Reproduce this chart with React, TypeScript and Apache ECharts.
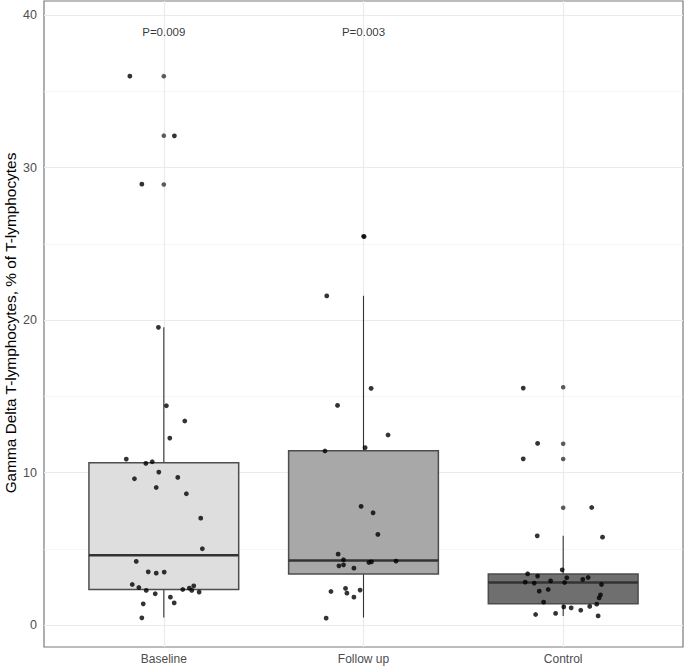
import React, { useEffect, useRef } from "react";
import * as echarts from "echarts";

const categories = ["Baseline", "Follow up", "Control"];
const yTicks = [0, 10, 20, 30, 40];
const yMinorTicks = [5, 15, 25, 35];
const yTitle = "Gamma Delta T-lymphocytes, % of T-lymphocytes";

// box stats: [lowerWhisker, Q1, median, Q3, upperWhisker]
const baselineBox = [0.5, 2.34, 4.59, 10.65, 19.53];
const followUpBox = [0.5, 3.35, 4.24, 11.44, 21.6];
const controlBox = [0.61, 1.4, 2.8, 3.35, 5.86];
const boxFills = ["#dedede", "#a8a8a8", "#6f6f6f"];

// outliers (drawn at category centre)
const baselineOutliers = [36.0, 32.1, 28.9];
const followUpOutliers = [25.5];
const controlOutliers = [15.6, 11.9, 10.9, 7.7];

// jittered points: [offset from category centre, value]
const baselinePoints = [
  [-0.17, 36.0], [0.053, 32.09], [-0.11, 28.92], [-0.027, 19.53], [0.013, 14.39],
  [0.105, 13.39], [0.03, 12.27], [-0.188, 10.89], [-0.09, 10.61], [-0.058, 10.72],
  [-0.147, 9.6], [-0.025, 10.04], [0.07, 9.69], [-0.038, 9.03], [0.113, 8.62],
  [0.185, 7.02], [0.193, 5.01], [-0.138, 4.18], [-0.078, 3.5], [-0.038, 3.41],
  [0.002, 3.48], [-0.158, 2.67], [-0.125, 2.47], [-0.088, 2.28], [-0.043, 2.06],
  [0.095, 2.34], [0.128, 2.43], [0.14, 2.28], [0.15, 2.58], [0.177, 2.17],
  [0.033, 1.84], [-0.103, 1.4], [0.052, 1.46], [-0.11, 0.48],
];
const followUpPoints = [
  [0.003, 25.48], [-0.184, 21.59], [0.038, 15.53], [-0.13, 14.41], [0.123, 12.47],
  [0.008, 11.64], [-0.193, 11.42], [-0.012, 7.79], [0.048, 7.37], [0.072, 5.95],
  [-0.127, 4.66], [-0.1, 4.29], [-0.123, 3.89], [-0.1, 3.96], [-0.048, 3.74],
  [0.027, 4.11], [0.04, 4.15], [0.163, 4.2], [-0.163, 2.21], [-0.09, 2.41],
  [-0.083, 2.1], [-0.017, 2.3], [-0.048, 1.84], [-0.187, 0.46],
];
const controlPoints = [
  [-0.2, 15.55], [-0.128, 11.92], [-0.2, 10.91], [0.143, 7.72], [-0.13, 5.86],
  [0.197, 5.77], [-0.005, 3.63], [-0.178, 3.37], [-0.128, 3.22], [-0.19, 2.82],
  [-0.145, 2.76], [-0.063, 2.91], [0.018, 3.11], [0.007, 2.8], [0.098, 3.0],
  [0.125, 3.13], [0.192, 2.67], [-0.12, 2.23], [-0.075, 2.34], [-0.098, 1.51],
  [0.187, 1.99], [0.18, 1.79], [0.168, 1.38], [0.133, 1.23], [0.003, 1.2],
  [0.04, 1.14], [0.088, 0.98], [-0.038, 0.77], [-0.138, 0.7], [0.175, 0.61],
];

const pLabels = ["P=0.009", "P=0.003"];
const pLabelY = 38.9;

const FONT = "Liberation Sans, Arial, sans-serif";

export default function App() {
  const ref = useRef<HTMLDivElement>(null);

  useEffect(() => {
    if (!ref.current) return;
    const chart = echarts.init(ref.current, null, { renderer: "svg" });

    const boxes = [baselineBox, followUpBox, controlBox];
    const boxData = boxes.map((b, i) => [i, ...b]);
    const outliers = [baselineOutliers, followUpOutliers, controlOutliers];
    const outlierData: number[][] = [];
    outliers.forEach((arr, i) => arr.forEach((v) => outlierData.push([i, v])));
    const pointGroups = [baselinePoints, followUpPoints, controlPoints];
    const pointData: number[][] = [];
    pointGroups.forEach((arr, i) => arr.forEach(([dx, v]) => pointData.push([i + dx, v])));

    const gridLines = [
      ...yMinorTicks.map((v) => ({ yAxis: v, lineStyle: { color: "#f2f2f2", width: 0.7, type: "solid" } })),
      ...yTicks.map((v) => ({ yAxis: v, lineStyle: { color: "#ebebeb", width: 1.2, type: "solid" } })),
      ...categories.map((_, i) => ({ xAxis: i, lineStyle: { color: "#ebebeb", width: 1.2, type: "solid" } })),
    ];

    const option: any = {
      animation: false,
      backgroundColor: "#ffffff",
      grid: {
        left: 44,
        right: 2,
        top: 1,
        bottom: 21,
        containLabel: false,
        outerBoundsMode: "none",
        show: true,
        borderColor: "#7a7a7a",
        borderWidth: 1.2,
        backgroundColor: "#ffffff",
      },
      graphic: [
        {
          type: "text",
          x: 10,
          y: 323,
          rotation: Math.PI / 2,
          silent: true,
          style: {
            text: yTitle,
            fill: "#000000",
            fontSize: 15.4,
            fontFamily: FONT,
            textAlign: "center",
            textVerticalAlign: "middle",
          },
        },
      ],
      xAxis: {
        type: "value",
        min: -0.6,
        max: 2.6,
        axisLine: { show: false },
        splitLine: { show: false },
        axisTick: { show: true, customValues: [0, 1, 2], length: 3, lineStyle: { color: "#333333", width: 1 } },
        axisLabel: {
          customValues: [0, 1, 2],
          formatter: (v: number) => categories[Math.round(v)] ?? "",
          color: "#4d4d4d",
          fontSize: 12,
          fontFamily: FONT,
          margin: 6,
        },
      },
      yAxis: {
        type: "value",
        min: -1.43,
        max: 40.93,
        axisLine: { show: false },
        splitLine: { show: false },
        axisTick: { show: true, customValues: yTicks, length: 3, lineStyle: { color: "#333333", width: 1 } },
        axisLabel: {
          customValues: yTicks,
          color: "#4d4d4d",
          fontSize: 12.5,
          fontFamily: FONT,
          margin: 7,
        },
      },
      series: [
        {
          type: "line",
          data: [],
          z: 1,
          markLine: {
            silent: true,
            z: 1,
            symbol: ["none", "none"],
            label: { show: false },
            animation: false,
            data: gridLines,
          },
        },
        {
          type: "custom",
          z: 10,
          data: boxData,
          renderItem: (params: any, api: any) => {
            const x = api.value(0);
            const lo = api.coord([x, api.value(1)]);
            const q1 = api.coord([x, api.value(2)]);
            const med = api.coord([x, api.value(3)]);
            const q3 = api.coord([x, api.value(4)]);
            const hi = api.coord([x, api.value(5)]);
            const w = api.size([0.75, 0])[0];
            const cx = lo[0];
            const stroke = "#4d4d4d";
            return {
              type: "group",
              children: [
                { type: "line", shape: { x1: cx, y1: hi[1], x2: cx, y2: q3[1] }, style: { stroke: "#333333", lineWidth: 1.1 } },
                { type: "line", shape: { x1: cx, y1: q1[1], x2: cx, y2: lo[1] }, style: { stroke: "#333333", lineWidth: 1.1 } },
                {
                  type: "rect",
                  shape: { x: cx - w / 2, y: q3[1], width: w, height: q1[1] - q3[1] },
                  style: { fill: boxFills[params.dataIndex], stroke, lineWidth: 1.5 },
                },
                { type: "line", shape: { x1: cx - w / 2, y1: med[1], x2: cx + w / 2, y2: med[1] }, style: { stroke: "#333333", lineWidth: 2.4 } },
              ],
            };
          },
        },
        {
          type: "scatter",
          z: 11,
          data: outlierData,
          symbol: "circle",
          symbolSize: 4.6,
          itemStyle: { color: "#333333" },
          silent: true,
        },
        {
          type: "scatter",
          z: 12,
          data: pointData,
          symbol: "circle",
          symbolSize: 4.8,
          itemStyle: { color: "#000000" },
          silent: true,
        },
        {
          type: "scatter",
          z: 13,
          data: pLabels.map((t, i) => ({ value: [i, pLabelY], name: t })),
          symbolSize: 0,
          silent: true,
          label: {
            show: true,
            position: "inside",
            formatter: (p: any) => p.name,
            color: "#000000",
            fontSize: 11.5,
            fontFamily: FONT,
          },
        },
      ],
    };

    chart.setOption(option);
    return () => chart.dispose();
  }, []);

  return (
    <div
      ref={ref}
      style={{ position: "fixed", left: 0, top: 0, width: 685, height: 668, background: "#fff" }}
    />
  );
}
